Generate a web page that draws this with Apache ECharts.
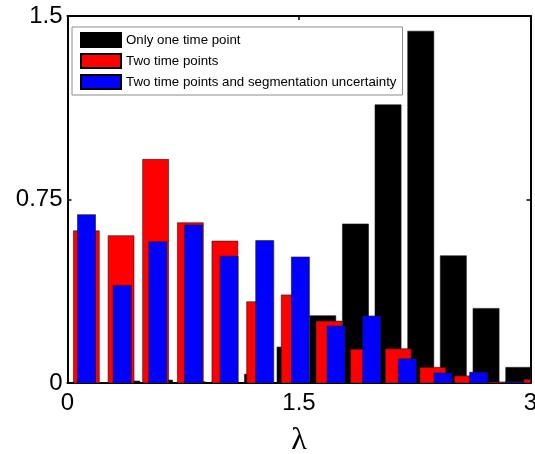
<!DOCTYPE html>
<html>
<head>
<meta charset="utf-8">
<script src="https://cdn.jsdelivr.net/npm/echarts@6/dist/echarts.min.js"></script>
<style>html,body{margin:0;padding:0;background:#fff}#c{width:535px;height:454px}</style>
</head>
<body>
<div id="c"></div>
<script>
// ---- data ----
const seriesNames = ['Only one time point', 'Two time points', 'Two time points and segmentation uncertainty'];
const xTicks = [0, 1.5, 3];
const yTicks = [0, 0.75, 1.5];

const blackCenters = [0.173, 0.384, 0.596, 0.808, 1.019, 1.231, 1.442, 1.654, 1.866, 2.077, 2.289, 2.500, 2.712, 2.924];
const blackValues  = [0.002, 0.008, 0.012, 0.005, 0.005, 0.036, 0.147, 0.275, 0.650, 1.137, 1.438, 0.520, 0.305, 0.064];

const redCenters = [0.122, 0.347, 0.571, 0.796, 1.020, 1.245, 1.469, 1.694, 1.918, 2.143, 2.367, 2.592, 2.816, 3.041];
const redValues  = [0.622, 0.602, 0.914, 0.655, 0.580, 0.332, 0.360, 0.253, 0.138, 0.140, 0.064, 0.029, 0.004, 0.015];

const blueCenters = [0.123, 0.354, 0.585, 0.816, 1.047, 1.278, 1.509, 1.740, 1.971, 2.202, 2.433, 2.664, 2.895];
const blueValues  = [0.688, 0.399, 0.577, 0.646, 0.518, 0.582, 0.515, 0.233, 0.274, 0.099, 0.041, 0.044, 0.005];

// ---- styling ----
const colors = ['#000000', '#ff0000', '#0000ff'];
const barWidths = [0.169, 0.168, 0.117]; // in data units
const FONT = 'Liberation Sans, Arial, Helvetica, sans-serif';

function pairs(xs, ys) { return xs.map((x, i) => [x, ys[i]]); }

function makeSeries(idx, data) {
  const w = barWidths[idx];
  return {
    type: 'custom',
    name: seriesNames[idx],
    clip: true,
    itemStyle: { color: colors[idx], borderColor: '#000', borderWidth: 0.6 },
    renderItem: function (params, api) {
      const x = api.value(0), y = api.value(1);
      const p0 = api.coord([x - w / 2, y]);
      const p1 = api.coord([x + w / 2, 0]);
      const rect = echarts.graphic.clipRectByRect(
        { x: p0[0], y: p0[1], width: p1[0] - p0[0], height: p1[1] - p0[1] },
        { x: params.coordSys.x, y: params.coordSys.y, width: params.coordSys.width, height: params.coordSys.height }
      );
      if (!rect) return null;
      return {
        type: 'rect',
        shape: rect,
        style: { fill: colors[idx], stroke: '#1a1a1a', lineWidth: 0.6 }
      };
    },
    encode: { x: 0, y: 1 },
    data: data,
    z: 2 + idx
  };
}

const chart = echarts.init(document.getElementById('c'), null, { renderer: 'canvas' });
function axisLine() { return { show: true, onZero: false, lineStyle: { color: '#000', width: 2 } }; }
function tick() { return { show: true, inside: true, length: 4, lineStyle: { color: '#000', width: 1.5 } }; }

chart.setOption({
  animation: false,
  backgroundColor: '#fff',
  textStyle: { fontFamily: FONT },
  grid: { left: 67.5, right: 4.5, top: 16, bottom: 71, containLabel: false, outerBoundsMode: 'none' },
  legend: {
    orient: 'vertical',
    left: 72, top: 27,
    padding: [5, 6, 5, 8],
    itemWidth: 40, itemHeight: 14, itemGap: 5,
    backgroundColor: '#fff',
    borderColor: '#8c8c8c', borderWidth: 1, borderRadius: 0,
    icon: 'rect',
    textStyle: { fontFamily: FONT, fontSize: 13.3, color: '#000' },
    data: seriesNames,
    z: 10
  },
  xAxis: [{
    type: 'value', min: xTicks[0], max: xTicks[2], interval: xTicks[1] - xTicks[0],
    position: 'bottom',
    axisLine: axisLine(), axisTick: tick(), splitLine: { show: false },
    axisLabel: { fontSize: 24, color: '#000', margin: 8, fontFamily: FONT,
      formatter: v => String(v) },
    name: 'λ', nameLocation: 'middle', nameGap: 42,
    nameTextStyle: { fontSize: 32, color: '#000', fontFamily: 'Liberation Serif, DejaVu Serif, serif' }
  }, {
    type: 'value', min: xTicks[0], max: xTicks[2], interval: xTicks[1] - xTicks[0],
    position: 'top',
    axisLine: axisLine(), axisTick: tick(), splitLine: { show: false },
    axisLabel: { show: false }
  }],
  yAxis: [{
    type: 'value', min: yTicks[0], max: yTicks[2], interval: yTicks[1] - yTicks[0],
    position: 'left',
    axisLine: axisLine(), axisTick: tick(), splitLine: { show: false },
    axisLabel: { fontSize: 24, color: '#000', margin: 5, fontFamily: FONT,
      formatter: v => String(v) }
  }, {
    type: 'value', min: yTicks[0], max: yTicks[2], interval: yTicks[1] - yTicks[0],
    position: 'right',
    axisLine: axisLine(), axisTick: tick(), splitLine: { show: false },
    axisLabel: { show: false }
  }],
  series: [
    makeSeries(0, pairs(blackCenters, blackValues)),
    makeSeries(1, pairs(redCenters, redValues)),
    makeSeries(2, pairs(blueCenters, blueValues))
  ]
});
</script>
</body>
</html>
